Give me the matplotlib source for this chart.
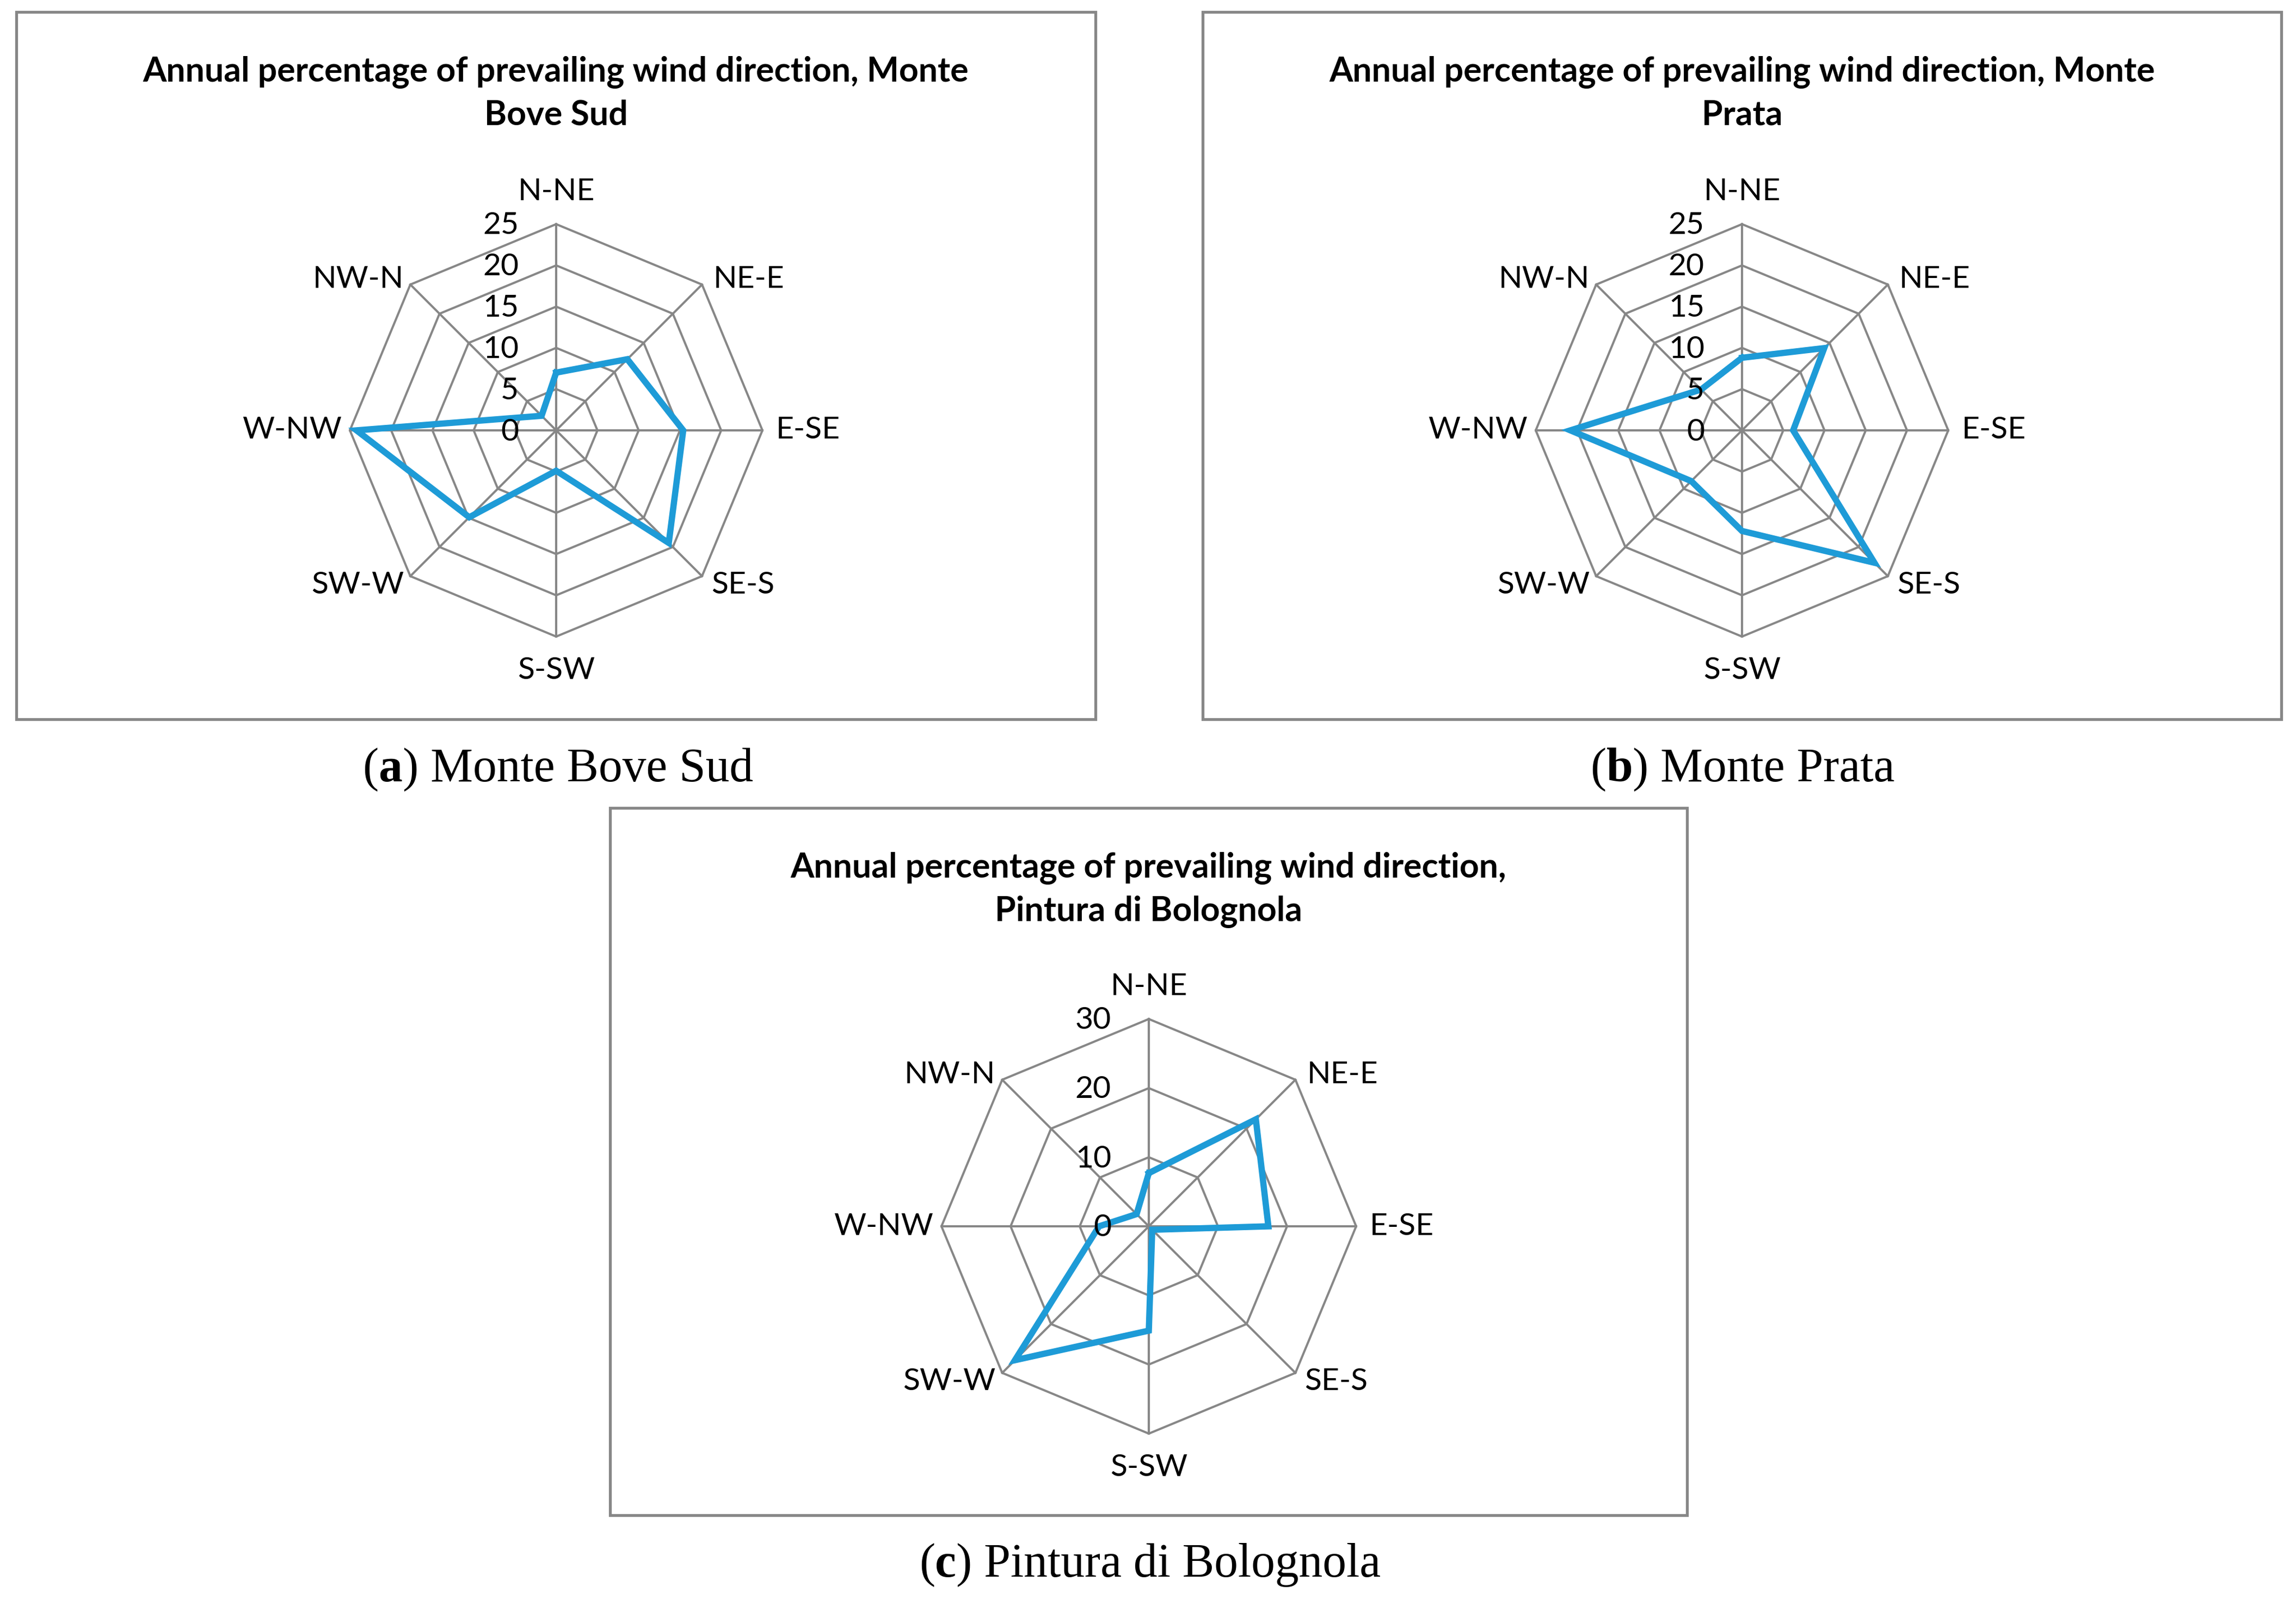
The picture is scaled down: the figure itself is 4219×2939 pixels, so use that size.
import numpy as np
import matplotlib
matplotlib.use("Agg")
import matplotlib.pyplot as plt
from matplotlib.patches import Rectangle

# ---------------- data ----------------
directions = ["N-NE", "NE-E", "E-SE", "SE-S", "S-SW", "SW-W", "W-NW", "NW-N"]
monte_bove_sud = [7.0, 12.2, 15.4, 19.3, 4.9, 14.9, 24.2, 2.5]
monte_prata = [8.8, 14.1, 6.2, 22.7, 12.2, 8.7, 20.8, 7.0]
pintura_bolognola = [7.7, 21.9, 17.3, 0.7, 15.1, 27.4, 7.2, 2.5]
ticks_ab = [0, 5, 10, 15, 20, 25]
ticks_c = [0, 10, 20, 30]
titles = [
    ["Annual percentage of prevailing wind direction, Monte", "Bove Sud"],
    ["Annual percentage of prevailing wind direction, Monte", "Prata"],
    ["Annual percentage of prevailing wind direction,", "Pintura di Bolognola"],
]
caption_letters = ["a", "b", "c"]
caption_names = ["Monte Bove Sud", "Monte Prata", "Pintura di Bolognola"]

# ---------------- styling ----------------
W, H = 4219, 2939
DPI = 100
GRID = "#878787"
BLUE = "#1E9BD7"
SANS = ["Lato", "DejaVu Sans"]
SERIF = ["Liberation Serif", "DejaVu Serif"]
LABEL_FS = 41
TITLE_FS = 45
CAP_FS = 63

fig = plt.figure(figsize=(W / DPI, H / DPI), dpi=DPI)
fig.patch.set_facecolor("white")


def fx(x):
    return x / W


def fy(y):
    return 1 - y / H


# label offsets (pixels) relative to the outer vertex: (dx, dy, ha, va)
label_pos = [
    (0, 44, "center", "baseline"),
    (21, -6, "left", "baseline"),
    (25, 0, "left", "center"),
    (17, 9, "left", "top"),
    (0, -37, "center", "top"),
    (-12, 9, "right", "top"),
    (-15, 0, "right", "center"),
    (-12, -6, "right", "baseline"),
]


def radar(cx, cy, R, values, ticks, box, title_lines):
    # box
    x0, y0, x1, y1 = box
    fig.patches.append(Rectangle((fx(x0), fy(y1)), (x1 - x0) / W, (y1 - y0) / H,
                                 transform=fig.transFigure, fill=False,
                                 edgecolor=GRID, linewidth=3.8, zorder=0))
    # title
    bx = (x0 + x1) / 2
    for i, line in enumerate(title_lines):
        fig.text(fx(bx), fy(y0 + 127 + 80 * i), line, ha="center", va="baseline",
                 fontsize=TITLE_FS, fontweight="bold", family=SANS)

    ax = fig.add_axes([fx(cx - R), fy(cy + R), 2 * R / W, 2 * R / H], projection="polar")
    ax.set_theta_zero_location("N")
    ax.set_theta_direction(-1)
    rmax = ticks[-1]
    ax.set_ylim(0, rmax)
    ax.grid(False)
    ax.set_xticks([])
    ax.set_yticks([])
    ax.spines["polar"].set_visible(False)
    ax.patch.set_alpha(0)

    n = len(directions)
    theta = np.arange(n) * 2 * np.pi / n
    theta_c = np.append(theta, theta[0])
    for t in ticks[1:]:
        ax.plot(theta_c, [t] * (n + 1), color=GRID, lw=2.9, clip_on=False, zorder=1)
    for th in theta:
        ax.plot([th, th], [0, rmax], color=GRID, lw=2.9, clip_on=False, zorder=1)

    vals = np.append(values, values[0])
    ax.plot(theta_c, vals, color=BLUE, lw=8.3, solid_joinstyle="miter",
            clip_on=False, zorder=3)

    for th, lab, (dx, dy, ha, va) in zip(theta, directions, label_pos):
        ax.annotate(lab, xy=(th, rmax), xytext=(dx, dy), textcoords="offset pixels",
                    ha=ha, va=va, fontsize=LABEL_FS, family=SANS,
                    annotation_clip=False)
    for t in ticks:
        ax.annotate(str(t), xy=(0, t), xytext=(-69, -3), textcoords="offset pixels",
                    ha="right", va="center", fontsize=LABEL_FS, family=SANS,
                    annotation_clip=False, zorder=4)


radar(1022, 791, 379, monte_bove_sud, ticks_ab, (30, 22, 2013, 1322), titles[0])
radar(3201, 791, 379, monte_prata, ticks_ab, (2210, 22, 4192, 1322), titles[1])
radar(2111, 2254, 381, pintura_bolognola, ticks_c, (1121, 1485, 3100, 2785), titles[2])

# captions: "(" + bold letter + ") name"
renderer = fig.canvas.get_renderer()


def caption(cx, ybase, letter, name):
    parts = [("(", "normal"), (letter, "bold"), (") " + name, "normal")]
    txts = [fig.text(0, 0, s, fontweight=w, fontsize=CAP_FS, family=SERIF,
                     ha="left", va="baseline") for s, w in parts]
    widths = [t.get_window_extent(renderer).width for t in txts]
    x = cx - sum(widths) / 2
    for t, w in zip(txts, widths):
        t.set_position((fx(x), fy(ybase)))
        x += w


caption(1025, 1436, caption_letters[0], caption_names[0])
caption(3202, 1436, caption_letters[1], caption_names[1])
caption(2113, 2898, caption_letters[2], caption_names[2])

fig.savefig("out.png", dpi=DPI, facecolor="white")
